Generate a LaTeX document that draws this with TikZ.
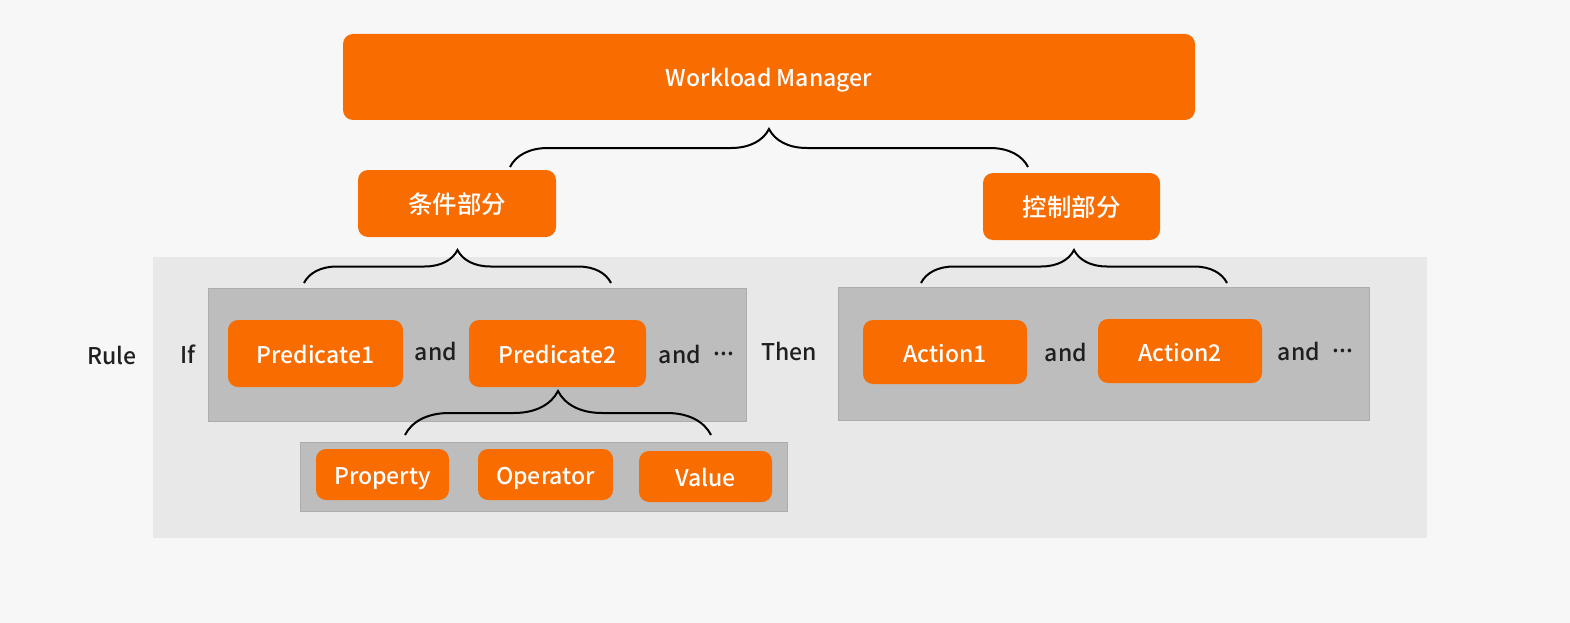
\documentclass[tikz,border=0pt]{standalone}
\usepackage{fontspec}
\setmainfont{Noto Sans CJK SC}[BoldFont={Noto Sans CJK SC Medium}]
\usetikzlibrary{positioning,decorations.pathreplacing}
\definecolor{orng}{RGB}{249,108,0}

\begin{document}
\begin{tikzpicture}[
  x=1pt, y=-1pt,
  font=\fontsize{23}{27}\selectfont\bfseries,
  box/.style={fill=orng, rounded corners=10pt, text=white, align=center, inner sep=0pt,
    text height=20pt, text depth=0pt},
  zh/.style={font=\fontsize{24.5}{28}\selectfont\bfseries},
  grp/.style={fill=black!26, draw=black!32, line width=0.8pt, inner sep=0pt},
  word/.style={text=black!88, inner sep=0pt},
  brc/.style={decorate, decoration={brace, amplitude=#1}, line width=2pt},
  brc/.default=33pt
]
% page and rule area
\fill[black!3] (0,0) rectangle (1570,623);
\fill[black!9] (153,257) rectangle (1427,538);

\node[box, minimum width=852, minimum height=86] (wm) at (769,77) {Workload Manager};
\node[box, zh, minimum width=198, minimum height=67] (cond) at (457,203.5) {条件部分};
\node[box, zh, minimum width=177, minimum height=67] (ctrl) at (1071.5,206.5) {控制部分};

% condition group
\node[grp, minimum width=538, minimum height=133] (gp) at (477,354.5) {};
\node[box, minimum width=175, minimum height=67] (p1) at (315.5,353.5) {Predicate1};
\node[box, minimum width=177, minimum height=67] (p2) at (557.5,353.5) {Predicate2};

% predicate parts
\node[grp, minimum width=487, minimum height=69] (gv) at (543.5,476.5) {};
\node[box, minimum width=133, minimum height=51] (prop) at (382.5,474.5) {Property};
\node[box, minimum width=135, minimum height=51] (op) at (545.5,474.5) {Operator};
\node[box, minimum width=133, minimum height=51] (val) at (705.5,476.5) {Value};

% action group
\node[grp, minimum width=531, minimum height=133] (ga) at (1103.5,353.5) {};
\node[box, minimum width=164, minimum height=64] (a1) at (945,352) {Action1};
\node[box, minimum width=164, minimum height=64] (a2) at (1180,351) {Action2};

\node[word] (rule) at (112,355) {Rule};
\node[word] (if) at (188,354) {If};
\node[word] (and1) at (436,351) {and};
\node[word] (and2) at (680,354) {and};
\node[word, right=12pt of and2] (dots1) {...};
\node[word] (then) at (789,351) {Then};
\node[word] (and3) at (1066,352) {and};
\node[word] (and4) at (1299,351) {and};
\node[word, right=12pt of and4] (dots2) {...};

% braces
\coordinate (w0) at (510,167);
\coordinate (w1) at (1028,167);
\coordinate (c0) at (304,283);
\coordinate (c1) at (611,283);
\coordinate (k0) at (921,283);
\coordinate (k1) at (1227,283);
\coordinate (v0) at (405,435);
\coordinate (v1) at (711,435);
\draw[brc=38pt] (w0) -- (w1);
\draw[brc] (c0) -- (c1);
\draw[brc] (k0) -- (k1);
\draw[brc=44pt] (v0) -- (v1);
\end{tikzpicture}
\end{document}
